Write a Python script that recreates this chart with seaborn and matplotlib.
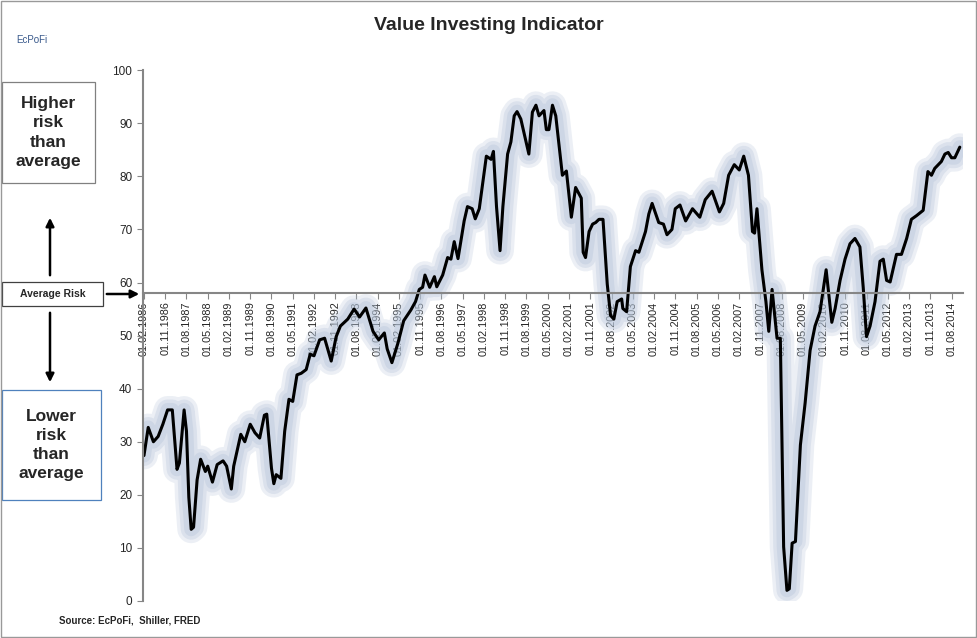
import matplotlib
matplotlib.use("Agg")
import matplotlib.pyplot as plt
import seaborn as sns
import pandas as pd
import numpy as np
from matplotlib.patches import Rectangle, FancyArrowPatch

# month offsets from 01.02.1986 and indicator values
months = [0,1.8,4,6,8,10,12,14,15,17,18,19,20,21,22.5,24,26,27,29,31,33.5,35,37,38,41,42.7,45,47,49,51,52,54,55,56,58,59.6,
          61.4,63,64.8,66.6,68.7,70.4,72,74.4,76.5,79.3,81.4,83.2,86.3,89,91.3,94,97,99.4,101.8,103,105,107.5,110,113,115,
          116.6,118,119,121,123,124,126.5,128.6,130,131.4,133,135.6,137,139,140.3,142,143.4,145,147,148,149.3,150.8,152,
          154,155.4,156.8,158,159.6,163,164.5,166,167.3,169.4,170.4,171.5,173,174.4,175.8,177.2,178.9,181,182.8,185.2,186,
          187,188.5,190,191.3,192.7,194.4,196.2,197.6,199,200.4,202.3,202.8,204.4,206,208.2,209.6,212.4,213.8,215.2,218,220,
          221.5,223.6,225,227,229.4,232.3,235.4,237.7,240.6,243.7,245.5,247.6,250,252.1,254,256,257.7,258.6,259.6,261.7,
          263.4,264.6,266,268.1,269.5,270.9,272.3,273.3,274.5,275.9,278,280,282.1,284.2,286.3,288.9,291.3,292.7,294.8,296.9,
          299,301.1,303.2,304.6,306,307.5,309.6,311.7,313.1,314.5,316,318.7,320.8,323,325,327.2,330,332,333.5,334.9,337.7,
          339.2,340.6,342,343.4,345.5]
values = [27.4,32.7,30,31,33.3,36,36,24.8,26,36,32,19.5,13.5,13.9,22.8,26.7,24.4,25.4,22.4,25.7,26.4,25.4,21.1,25.4,31.4,30,
          33.3,31.7,30.7,35,35.2,25,22.1,23.8,23.1,32,38,37.6,42.6,42.9,43.6,46.5,46.2,49.2,49.5,45.2,49.8,51.8,53.1,55,53.5,
          55.2,50.8,49.2,50.5,47.5,44.9,48.5,52.8,54.8,56.4,58.7,59.1,61.4,59.1,61.1,59.2,61.4,64.7,64.4,67.7,64.5,71.6,74.3,
          73.9,72,73.9,78.5,83.8,83.2,84.7,74.3,66,74.3,84.2,86.5,91.4,92.2,90.8,84.2,92.1,93.4,91.4,92.4,88.8,88.8,93.4,91.4,
          85.8,80.2,81,72.3,77.9,75.9,65.7,64.7,69.6,71,71.3,71.9,71.9,59.7,53.8,53.1,56.4,56.9,55.1,54.5,63,66,65.7,69.6,72.9,
          74.9,71.3,71,69,70,73.9,74.6,71.6,73.9,72.3,75.6,77.2,73.3,74.9,80.2,82.2,81.2,83.8,80.2,69.6,69.3,73.9,62.4,56.4,
          50.8,58.7,49.5,49.5,10.2,2,2.3,10.9,11.2,29.4,37.3,47.2,51.8,54.5,62.4,52.5,55.1,60.4,64.4,67.3,68.3,66.7,59.1,49.8,
          51.8,56.4,64,64.4,60.4,60.1,65.3,65.3,68.3,71.9,72.6,73.6,80.9,80.2,81.5,82.8,84.2,84.5,83.5,83.5,85.5]
tick_months = list(range(0, 343, 9))
average_risk = 58

start = pd.Timestamp("1986-02-01")
tick_labels = [(start + pd.DateOffset(months=m)).strftime("%d.%m.%Y") for m in tick_months]
df = pd.DataFrame({"month": months, "value": values})

sns.set_style("white")
plt.rcParams["font.family"] = ["Liberation Sans", "DejaVu Sans"]

fig = plt.figure(figsize=(9.78, 6.38), dpi=100)
ax = fig.add_axes([0.146, 0.058, 0.839, 0.832])

glow = "#b4c3d8"
for lw, a in [(20, 0.25), (15, 0.3), (10, 0.35)]:
    sns.lineplot(data=df, x="month", y="value", ax=ax, color=glow, lw=lw, alpha=a,
                 solid_capstyle="round", solid_joinstyle="round")
sns.lineplot(data=df, x="month", y="value", ax=ax, color="black", lw=2.2)

ax.set_ylim(0, 100)
ax.set_xlim(-0.5, 347)
ax.set_yticks(range(0, 101, 10))
ax.set_xticks(tick_months)
ax.set_xticklabels(tick_labels)
ax.tick_params(axis="y", labelsize=8.5, length=4, color="#868686", direction="out", left=True)
ax.tick_params(axis="x", length=4, color="#868686", direction="out", bottom=True, pad=2,
               labelrotation=90, labelsize=7.8)
ax.set_xlabel("")
ax.set_ylabel("")
for s in ["top", "right"]:
    ax.spines[s].set_visible(False)
ax.spines["bottom"].set_position(("data", average_risk))
for s in ["bottom", "left"]:
    ax.spines[s].set_color("#868686")
    ax.spines[s].set_linewidth(1.5)

fig.text(0.5, 0.96, "Value Investing Indicator", ha="center", va="center", fontsize=14, fontweight="bold")
fig.text(0.06, 0.027, "Source: EcPoFi,  Shiller, FRED", ha="left", va="center", fontsize=7, fontweight="bold")
fig.text(0.033, 0.937, "EcPoFi", ha="center", va="center", fontsize=7, color="#3a5a8c")

def box(x0, y0, x1, y1, txt, fs, ec):
    fig.patches.append(Rectangle((x0 / 978, 1 - y1 / 638), (x1 - x0) / 978, (y1 - y0) / 638,
                                 transform=fig.transFigure, fill=False, ec=ec, lw=0.9))
    fig.text((x0 + x1) / 2 / 978, 1 - (y0 + y1) / 2 / 638, txt, ha="center", va="center",
             fontsize=fs, fontweight="bold", linespacing=1.35)

box(2, 82, 95, 183, "Higher\nrisk\nthan\naverage", 12.5, "#808080")
box(2, 282, 103, 306, "Average Risk", 7.5, "#404040")
box(2, 390, 101, 500, "Lower\nrisk\nthan\naverage", 12.5, "#4f81bd")

def arrow(x0, y0, x1, y1):
    fig.add_artist(FancyArrowPatch((x0 / 978, 1 - y0 / 638), (x1 / 978, 1 - y1 / 638),
                   transform=fig.transFigure, arrowstyle="-|>", mutation_scale=12, lw=1.8, color="black"))

arrow(50, 278, 50, 215)
arrow(50, 310, 50, 385)
arrow(104, 294, 142, 294)

fig.patches.append(Rectangle((0.001, 0.001), 0.997, 0.997, transform=fig.transFigure, fill=False, ec="#999999", lw=1))
fig.savefig("out.png", dpi=100)
